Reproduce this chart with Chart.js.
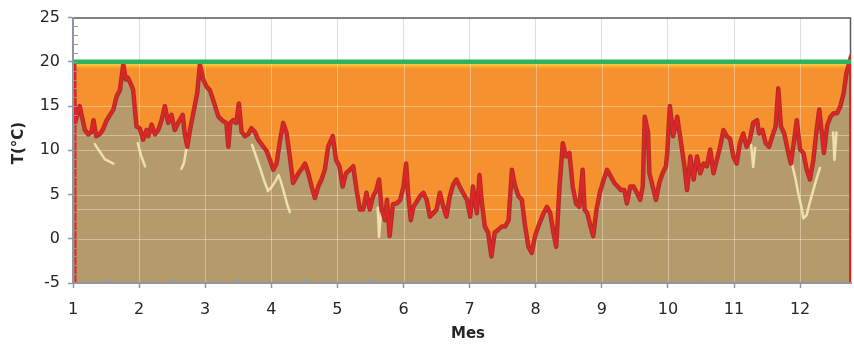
<!DOCTYPE html>
<html>
<head>
<meta charset="utf-8">
<script src="https://cdn.jsdelivr.net/npm/chart.js@4/dist/chart.umd.min.js"></script>
<style>
  html, body { margin: 0; padding: 0; background: #fff; }
  #wrap { width: 854px; height: 345px; }
</style>
</head>
<body>
<div id="wrap"><canvas id="grafico" width="854" height="345"></canvas></div>
<script>
// Temperatura diaria a lo largo del año (mes fraccionario, °C)
const meses = [
  1.00, 1.03, 1.10, 1.18, 1.23, 1.28, 1.31, 1.35, 1.40, 1.45, 1.51, 1.56, 1.61, 1.66, 1.71, 1.76, 1.80, 1.83, 1.88, 1.91, 1.96,
  2.01, 2.06, 2.11, 2.14, 2.19, 2.24, 2.29, 2.34, 2.39, 2.44, 2.49, 2.54, 2.59, 2.66, 2.69, 2.73, 2.77, 2.82, 2.88, 2.92, 2.97,
  3.02, 3.07, 3.12, 3.20, 3.27, 3.32, 3.35, 3.38, 3.42, 3.47, 3.51, 3.55, 3.60, 3.65, 3.70, 3.75, 3.80, 3.88, 3.93, 3.98,
  4.03, 4.08, 4.13, 4.18, 4.23, 4.28, 4.33, 4.41, 4.46, 4.51, 4.56, 4.61, 4.66, 4.71, 4.76, 4.81, 4.86, 4.93, 4.98,
  5.03, 5.08, 5.13, 5.19, 5.24, 5.29, 5.34, 5.39, 5.44, 5.49, 5.54, 5.59, 5.63, 5.67, 5.72, 5.75, 5.79, 5.84, 5.90, 5.95,
  6.00, 6.04, 6.07, 6.11, 6.15, 6.20, 6.25, 6.30, 6.35, 6.40, 6.45, 6.50, 6.55, 6.60, 6.65, 6.70, 6.75, 6.80, 6.85, 6.90, 6.96,
  7.01, 7.05, 7.08, 7.11, 7.15, 7.18, 7.23, 7.28, 7.33, 7.38, 7.43, 7.49, 7.54, 7.59, 7.64, 7.69, 7.74, 7.79, 7.84, 7.89, 7.94, 7.99,
  8.04, 8.12, 8.17, 8.22, 8.27, 8.31, 8.36, 8.41, 8.46, 8.51, 8.56, 8.61, 8.66, 8.71, 8.74, 8.78, 8.83, 8.87, 8.92, 8.97,
  9.03, 9.08, 9.14, 9.19, 9.24, 9.29, 9.34, 9.38, 9.43, 9.48, 9.53, 9.58, 9.62, 9.65, 9.70, 9.72, 9.77, 9.82, 9.87, 9.92, 9.97, 9.99,
  10.03, 10.08, 10.14, 10.20, 10.25, 10.29, 10.34, 10.39, 10.44, 10.49, 10.54, 10.59, 10.64, 10.69, 10.74, 10.79, 10.84, 10.89, 10.94, 10.99,
  11.04, 11.09, 11.14, 11.19, 11.24, 11.29, 11.35, 11.38, 11.43, 11.48, 11.53, 11.58, 11.63, 11.67, 11.71, 11.76, 11.81, 11.86, 11.91, 11.95,
  12.00, 12.05, 12.10, 12.15, 12.20, 12.25, 12.29, 12.34, 12.36, 12.41, 12.46, 12.51, 12.56, 12.61, 12.66, 12.70, 12.74, 12.77
];
const temperatura = [
  20.0, 13.1, 15.0, 12.3, 11.8, 12.1, 13.4, 11.6, 11.8, 12.3, 13.4, 14.0, 14.6, 16.1, 16.8, 19.7, 18.0, 18.2, 17.4, 16.8, 12.7,
  12.5, 11.2, 12.3, 11.6, 12.9, 11.8, 12.3, 13.4, 15.0, 13.1, 14.0, 12.3, 13.1, 14.0, 11.9, 10.4, 12.3, 14.2, 16.5, 19.7, 18.0,
  17.2, 16.8, 15.7, 13.8, 13.3, 13.1, 10.4, 13.1, 13.4, 13.1, 15.3, 12.1, 11.6, 11.8, 12.5, 12.1, 11.2, 10.4, 9.9, 8.9,
  7.8, 8.5, 11.0, 13.1, 12.0, 9.3, 6.3, 7.4, 7.9, 8.5, 7.4, 5.9, 4.6, 5.9, 6.7, 7.8, 10.4, 11.6, 8.9,
  8.2, 5.9, 7.4, 7.8, 8.2, 5.5, 3.3, 3.3, 5.2, 3.3, 4.8, 5.5, 6.7, 3.3, 2.1, 4.4, 0.3, 3.9, 4.0, 4.4,
  5.9, 8.5, 5.1, 2.1, 3.6, 4.2, 4.8, 5.2, 4.4, 2.5, 2.9, 3.3, 5.2, 3.7, 2.5, 4.8, 6.1, 6.7, 5.9, 5.2, 4.4,
  2.5, 5.9, 4.4, 2.9, 7.2, 4.4, 1.4, 0.7, -2.0, 0.7, 1.0, 1.4, 1.4, 2.1, 7.8, 5.9, 4.8, 4.4, 1.4, -0.9, -1.6, 0.3,
  1.4, 2.9, 3.6, 2.9, 0.6, -0.9, 5.9, 10.8, 9.3, 9.7, 5.9, 4.0, 3.6, 7.8, 3.3, 2.9, 1.4, 0.3, 3.3, 5.2,
  6.7, 7.8, 7.0, 6.3, 5.9, 5.5, 5.5, 4.0, 5.9, 5.9, 5.2, 4.4, 5.9, 13.8, 12.0, 7.4, 5.9, 4.4, 6.3, 7.4, 8.2, 9.7,
  15.0, 11.6, 13.8, 10.8, 8.2, 5.5, 9.3, 6.7, 9.3, 7.4, 8.5, 8.2, 10.1, 7.4, 8.9, 10.4, 12.3, 11.6, 11.3, 9.3,
  8.5, 10.8, 11.9, 10.4, 11.2, 13.1, 13.4, 11.9, 12.3, 10.8, 10.4, 11.6, 12.7, 17.0, 12.7, 11.9, 10.1, 8.5, 11.2, 13.4,
  10.1, 9.7, 7.8, 6.7, 8.9, 12.3, 14.6, 11.2, 9.7, 12.8, 13.8, 14.2, 14.2, 15.0, 16.5, 18.7, 19.8, 20.6
];

// Tramos de la segunda serie (mínimas), null separa tramos
const mesesMin = [
  1.33, 1.40, 1.48, 1.61, 1.61,
  1.98, 2.03, 2.09, 2.09,
  2.64, 2.68, 2.72, 2.72,
  3.71, 3.77, 3.83, 3.89, 3.95, 4.01, 4.07, 4.11, 4.14, 4.19, 4.24, 4.28, 4.28,
  5.61, 5.63, 5.66, 5.66,
  11.26, 11.29, 11.32, 11.32,
  11.88, 11.93, 11.97, 12.02, 12.05, 12.10, 12.15, 12.20, 12.25, 12.30, 12.30,
  12.50, 12.52, 12.55
];
const temperaturaMin = [
  10.7, 9.9, 9.0, 8.5, null,
  10.8, 9.4, 8.2, null,
  7.9, 8.6, 10.4, null,
  10.6, 9.3, 8.0, 6.6, 5.4, 5.9, 6.6, 7.2, 6.6, 5.3, 3.9, 3.0, null,
  3.5, 0.2, 3.0, null,
  10.6, 8.1, 10.3, null,
  8.4, 6.8, 5.2, 3.6, 2.3, 2.7, 4.2, 5.5, 6.8, 8.0, null,
  12.0, 8.9, 12.0
];

const umbral = 20;                          // temperatura de consigna
const nivelesRejilla = [15, 10, 5, 0];      // líneas horizontales sobre el relleno
const referencias = [11.7, 3.4];            // líneas auxiliares
const mesInicio = 1;
const mesFin = 12.77;
const tempMin = -5;
const tempMax = 25;

const COL = {
  verde: '#2CB45B',
  naranja: '#F5922F',
  amarillo: '#F9DA45',
  tierra: '#B59B6B',
  rojo: '#E3222A',
  rojoOscuro: 'rgba(168,38,30,0.9)',
  crema: 'rgba(243,232,176,0.9)',
  ejes: '#8E97A1',
  rejilla: '#DEDEDE',
  rejillaClara: 'rgba(255,236,215,0.42)',
  texto: '#262626'
};

const puntos = (xs, ys) => xs.map((x, i) => ({ x, y: ys[i] }));
const serie = puntos(meses, temperatura);

// Degradado amarillo junto a la consigna, naranja debajo
function rellenoNaranja(ctx) {
  const chart = ctx.chart;
  if (!chart.chartArea) return COL.naranja;
  const y0 = chart.scales.y.getPixelForValue(umbral);
  const g = chart.ctx.createLinearGradient(0, y0 + 1, 0, y0 + 7);
  g.addColorStop(0, COL.amarillo);
  g.addColorStop(0.4, '#F8BE3A');
  g.addColorStop(1, COL.naranja);
  return g;
}

// Bordes del área, rejilla clara sobre los rellenos, marcas menores y títulos
const decoracion = {
  id: 'decoracion',
  beforeDatasetsDraw(chart) {
    const { ctx, chartArea: a, scales: { x, y } } = chart;
    ctx.save();
    // rejilla clara sobre los rellenos
    ctx.beginPath();
    ctx.rect(a.left, y.getPixelForValue(umbral) + 2, a.right - a.left, a.bottom - y.getPixelForValue(umbral) - 2);
    ctx.clip();
    ctx.strokeStyle = COL.rejillaClara;
    ctx.lineWidth = 1;
    [...nivelesRejilla, ...referencias].forEach(v => {
      const py = Math.round(y.getPixelForValue(v)) + 0.5;
      ctx.beginPath();
      ctx.moveTo(a.left, py);
      ctx.lineTo(a.right, py);
      ctx.stroke();
    });
    for (let m = mesInicio + 1; m < mesFin; m++) {
      const px = Math.round(x.getPixelForValue(m)) + 0.5;
      ctx.beginPath();
      ctx.moveTo(px, a.top);
      ctx.lineTo(px, a.bottom);
      ctx.stroke();
    }
    ctx.restore();

    ctx.save();
    ctx.strokeStyle = '#5a5a5a';
    ctx.lineWidth = 1.5;
    ctx.beginPath();
    ctx.moveTo(a.left, a.top + 0.5);
    ctx.lineTo(a.right - 0.5, a.top + 0.5);
    ctx.lineTo(a.right - 0.5, a.bottom);
    ctx.stroke();
    ctx.restore();
  },
  afterDatasetsDraw(chart) {
    const { ctx, scales: { x, y } } = chart;
    const yTop = y.getPixelForValue(umbral);
    const yBot = y.getPixelForValue(tempMin);
    ctx.save();
    ctx.strokeStyle = COL.rojo;
    ctx.lineWidth = 2;
    [x.getPixelForValue(mesInicio) + 2.5, x.getPixelForValue(mesFin) - 1].forEach(px => {
      ctx.beginPath();
      ctx.moveTo(px, yTop + 2);
      ctx.lineTo(px, yBot);
      ctx.stroke();
    });
    ctx.restore();
  },
  afterDraw(chart) {
    const { ctx, chartArea: a, scales: { x, y } } = chart;
    ctx.save();
    ctx.strokeStyle = COL.ejes;
    ctx.lineWidth = 1;
    for (let v = tempMin + 1; v < tempMax; v++) {
      const py = Math.round(y.getPixelForValue(v)) + 0.5;
      ctx.beginPath();
      ctx.moveTo(a.left + 1, py);
      ctx.lineTo(a.left + 5, py);
      ctx.stroke();
    }
    for (let m = mesInicio + 0.5; m < mesFin; m += 1) {
      const px = Math.round(x.getPixelForValue(m)) + 0.5;
      ctx.beginPath();
      ctx.moveTo(px, a.bottom - 1);
      ctx.lineTo(px, a.bottom - 5);
      ctx.stroke();
    }
    ctx.fillStyle = COL.texto;
    ctx.font = 'bold 15px "DejaVu Sans"';
    ctx.textAlign = 'center';
    ctx.textBaseline = 'middle';
    ctx.fillText('Mes', 468, 334);
    ctx.translate(19, 143);
    ctx.rotate(-Math.PI / 2);
    ctx.fillText('T(°C)', 0, 0);
    ctx.restore();
  }
};

const datasets = [
  {
    label: 'T',
    data: serie,
    borderColor: COL.rojoOscuro,
    borderWidth: 4.5,
    backgroundColor: COL.tierra,
    fill: 'start',
    order: 3
  },
  {
    label: 'T (trazo)',
    data: serie,
    borderColor: COL.rojo,
    borderWidth: 2.2,
    fill: false,
    order: 2
  },
  {
    label: 'Consigna',
    data: meses.map(m => ({ x: m, y: umbral })),
    borderColor: COL.verde,
    borderWidth: 4.5,
    backgroundColor: rellenoNaranja,
    fill: { target: 0 },
    order: 1
  },
  {
    label: 'Mínima',
    data: puntos(mesesMin, temperaturaMin),
    borderColor: COL.crema,
    borderWidth: 2.5,
    fill: false,
    spanGaps: false,
    order: 4
  }
];

new Chart(document.getElementById('grafico'), {
  type: 'line',
  data: { datasets },
  options: {
    responsive: false,
    animation: false,
    events: [],
    layout: { padding: { top: 17, right: 3, left: 0, bottom: 0 } },
    elements: {
      point: { radius: 0 },
      line: { tension: 0, borderJoinStyle: 'round', borderCapStyle: 'round' }
    },
    plugins: {
      legend: { display: false },
      tooltip: { enabled: false },
      filler: { drawTime: 'beforeDatasetsDraw' }
    },
    scales: {
      x: {
        type: 'linear',
        min: mesInicio,
        max: mesFin,
        afterFit: s => { s.height = 62; },
        ticks: {
          stepSize: 1,
          includeBounds: false,
          padding: 12,
          color: COL.texto,
          font: { family: 'DejaVu Sans', size: 16 },
          maxRotation: 0,
          autoSkip: false
        },
        grid: {
          color: c => (c.tick && c.tick.value === mesInicio) ? 'rgba(0,0,0,0)' : COL.rejilla,
          lineWidth: 1,
          tickLength: 5,
          tickColor: COL.ejes,
          tickWidth: 1.5
        },
        border: { z: 2, color: COL.ejes, width: 2 }
      },
      y: {
        type: 'linear',
        min: tempMin,
        max: tempMax,
        afterFit: s => { s.width = 73; },
        ticks: {
          stepSize: 5,
          padding: 8,
          color: COL.texto,
          font: { family: 'DejaVu Sans', size: 16 }
        },
        grid: {
          color: c => (c.tick && [tempMin, umbral, tempMax].includes(c.tick.value)) ? 'rgba(0,0,0,0)' : COL.rejilla,
          lineWidth: 1,
          tickLength: 5,
          tickColor: COL.ejes,
          tickWidth: 1.5
        },
        border: { z: 2, color: COL.ejes, width: 2 }
      }
    }
  },
  plugins: [decoracion]
});
</script>
</body>
</html>
